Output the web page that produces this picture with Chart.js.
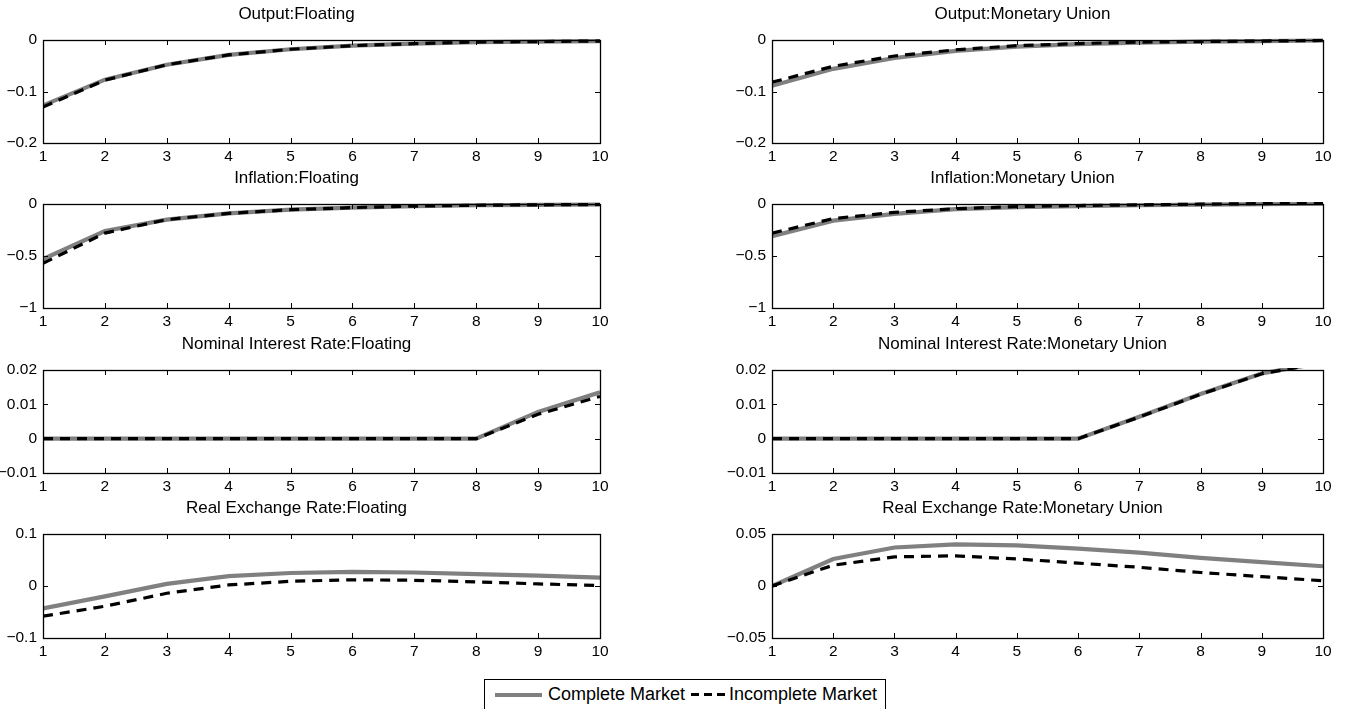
<!DOCTYPE html>
<html><head><meta charset="utf-8">
<script src="https://cdn.jsdelivr.net/npm/chart.js@4.4.1/dist/chart.umd.min.js"></script>
<style>
html,body{margin:0;padding:0;background:#fff;width:1346px;height:709px;overflow:hidden;position:relative;font-family:"Liberation Sans",Arial,sans-serif;}
.p{position:absolute;}
#legend{position:absolute;left:484px;top:679px;width:402px;height:40px;border:1px solid #000;border-bottom:none;background:#fff;box-sizing:border-box;font-size:18px;color:#000;display:flex;align-items:flex-start;padding:4px 0 0 10px;white-space:nowrap;}
#legend .txt{line-height:21px;height:21px;}
#legend .sw1{width:47px;height:4px;background:#808080;margin:9px 6px 0 0;}
#legend .sw2{width:34px;height:3px;background:repeating-linear-gradient(to right,#000 0 8px,transparent 8px 13px);margin:9px 4px 0 6px;}
</style></head>
<body>
<div id="legend"></div>
<script>
// ---------- data ----------
const periods = [1, 2, 3, 4, 5, 6, 7, 8, 9, 10];
const seriesNames = ['Complete Market', 'Incomplete Market'];
const panelTitles = [
  'Output:Floating', 'Output:Monetary Union',
  'Inflation:Floating', 'Inflation:Monetary Union',
  'Nominal Interest Rate:Floating', 'Nominal Interest Rate:Monetary Union',
  'Real Exchange Rate:Floating', 'Real Exchange Rate:Monetary Union'
];

const outputFloatComplete   = [-0.127, -0.077, -0.048, -0.029, -0.018, -0.011, -0.007, -0.004, -0.003, -0.002];
const outputFloatIncomplete = [-0.130, -0.078, -0.048, -0.029, -0.018, -0.011, -0.007, -0.004, -0.003, -0.002];
const outputMUComplete      = [-0.089, -0.056, -0.035, -0.021, -0.013, -0.008, -0.005, -0.003, -0.002, -0.001];
const outputMUIncomplete    = [-0.082, -0.051, -0.031, -0.019, -0.011, -0.007, -0.004, -0.003, -0.002, -0.001];

const inflFloatComplete     = [-0.53, -0.26, -0.15, -0.09, -0.055, -0.035, -0.02, -0.012, -0.008, -0.005];
const inflFloatIncomplete   = [-0.57, -0.28, -0.15, -0.09, -0.055, -0.035, -0.02, -0.012, -0.008, -0.005];
const inflMUComplete        = [-0.31, -0.16, -0.095, -0.05, -0.03, -0.02, -0.012, -0.006, -0.002, 0.004];
const inflMUIncomplete      = [-0.28, -0.14, -0.08, -0.045, -0.025, -0.015, -0.008, -0.002, 0.004, 0.008];

const rateFloatComplete     = [0, 0, 0, 0, 0, 0, 0, 0, 0.0078, 0.0135];
const rateFloatIncomplete   = [0, 0, 0, 0, 0, 0, 0, 0, 0.0071, 0.0123];
const rateMUComplete        = [0, 0, 0, 0, 0, 0, 0.0064, 0.0130, 0.0190, 0.0222];
const rateMUIncomplete      = [0, 0, 0, 0, 0, 0, 0.0063, 0.0129, 0.0189, 0.0221];

const rerFloatComplete      = [-0.043, -0.020, 0.004, 0.019, 0.025, 0.027, 0.026, 0.023, 0.020, 0.016];
const rerFloatIncomplete    = [-0.058, -0.039, -0.014, 0.002, 0.009, 0.012, 0.011, 0.008, 0.004, 0.001];
const rerMUComplete         = [0.000, 0.026, 0.037, 0.040, 0.039, 0.036, 0.032, 0.027, 0.023, 0.019];
const rerMUIncomplete       = [0.000, 0.020, 0.028, 0.029, 0.026, 0.022, 0.018, 0.013, 0.009, 0.005];

const yTicksOutput    = [-0.2, -0.1, 0];
const yTicksInflation = [-1, -0.5, 0];
const yTicksRate      = [-0.01, 0, 0.01, 0.02];
const yTicksRerFloat  = [-0.1, 0, 0.1];
const yTicksRerMU     = [-0.05, 0, 0.05];
const xTickLabels     = periods;

// ---------- layout / style ----------
const FONT = '"Liberation Sans", Arial, sans-serif';
const TICK_SIZE = 15.5, TITLE_SIZE = 17;
const colLeft = [[43, 600], [772, 1323]];
const rowTop = [[40, 143], [204, 308], [370, 473], [534, 638]];
const Y_W = 50, TITLE_H = 36, X_H = 26, PAD_R = 22;

const panels = [
  {c: outputFloatComplete, i: outputFloatIncomplete, t: yTicksOutput},
  {c: outputMUComplete, i: outputMUIncomplete, t: yTicksOutput},
  {c: inflFloatComplete, i: inflFloatIncomplete, t: yTicksInflation},
  {c: inflMUComplete, i: inflMUIncomplete, t: yTicksInflation},
  {c: rateFloatComplete, i: rateFloatIncomplete, t: yTicksRate},
  {c: rateMUComplete, i: rateMUIncomplete, t: yTicksRate},
  {c: rerFloatComplete, i: rerFloatIncomplete, t: yTicksRerFloat},
  {c: rerMUComplete, i: rerMUIncomplete, t: yTicksRerMU}
];

const fmt = v => String(v).replace('-', '\u2212');

const framePlugin = {
  id: 'frame',
  afterDatasetsDraw(chart) {
    const {ctx, chartArea: a, scales} = chart;
    ctx.save();
    ctx.strokeStyle = '#000';
    ctx.lineWidth = 1;
    ctx.beginPath();
    const TL = 5;
    scales.x.ticks.forEach((tk, k) => {
      const x = Math.round(scales.x.getPixelForTick(k)) + 0.5;
      ctx.moveTo(x, a.bottom); ctx.lineTo(x, a.bottom - TL);
      ctx.moveTo(x, a.top); ctx.lineTo(x, a.top + TL);
    });
    scales.y.ticks.forEach((tk, k) => {
      const y = Math.round(scales.y.getPixelForTick(k)) + 0.5;
      ctx.moveTo(a.left, y); ctx.lineTo(a.left + TL, y);
      ctx.moveTo(a.right, y); ctx.lineTo(a.right - TL, y);
    });
    ctx.stroke();
    ctx.lineWidth = 1.3;
    ctx.strokeRect(Math.round(a.left) + 0.5, Math.round(a.top) + 0.5, Math.round(a.right - a.left), Math.round(a.bottom - a.top));
    ctx.restore();
  }
};

panels.forEach((p, idx) => {
  const col = idx % 2, row = Math.floor(idx / 2);
  const [L, R] = colLeft[col];
  const [T, B] = rowTop[row];
  const cv = document.createElement('canvas');
  const w = (R - L) + Y_W + PAD_R, h = (B - T) + TITLE_H + X_H;
  cv.width = w; cv.height = h;
  cv.className = 'p';
  cv.style.left = (L - Y_W) + 'px';
  cv.style.top = (T - TITLE_H) + 'px';
  cv.style.width = w + 'px';
  cv.style.height = h + 'px';
  document.body.appendChild(cv);
  const yt = p.t;
  const lh = TITLE_SIZE * 1.2;
  new Chart(cv, {
    type: 'line',
    data: {
      labels: periods,
      datasets: [
        {label: seriesNames[0], data: periods.map((x, k) => ({x, y: p.c[k]})), borderColor: '#808080', borderWidth: 4.2, pointRadius: 0, tension: 0, clip: {left: 0, right: 0, top: 2, bottom: 2}, order: 2},
        {label: seriesNames[1], data: periods.map((x, k) => ({x, y: p.i[k]})), borderColor: '#000000', borderWidth: 3.2, borderDash: [10, 7], pointRadius: 0, tension: 0, clip: {left: 0, right: 0, top: 2, bottom: 2}, order: 1}
      ]
    },
    options: {
      responsive: false, animation: false, devicePixelRatio: 1,
      layout: {padding: {left: 0, right: PAD_R, top: 0, bottom: 0}},
      plugins: {
        legend: {display: false}, tooltip: {enabled: false},
        title: {display: true, text: panelTitles[idx], color: '#000', font: {family: FONT, size: TITLE_SIZE, weight: 'normal', lineHeight: 1.2}, padding: {top: TITLE_H - lh - (26 - lh / 2), bottom: 26 - lh / 2}}
      },
      scales: {
        x: {
          type: 'linear', min: 1, max: 10,
          grid: {display: false, drawTicks: false}, border: {display: false},
          afterBuildTicks: s => { s.ticks = xTickLabels.map(v => ({value: v})); },
          afterFit: s => { s.height = X_H; },
          ticks: {color: '#000', font: {family: FONT, size: TICK_SIZE}, padding: 4, maxRotation: 0, autoSkip: false, callback: v => fmt(v)}
        },
        y: {
          min: yt[0], max: yt[yt.length - 1],
          grid: {display: false, drawTicks: false}, border: {display: false},
          afterBuildTicks: s => { s.ticks = yt.map(v => ({value: v})); },
          afterFit: s => { s.width = Y_W; },
          ticks: {color: '#000', font: {family: FONT, size: TICK_SIZE}, padding: 6, autoSkip: false, callback: v => fmt(v)}
        }
      }
    },
    plugins: [framePlugin]
  });
});

// legend (HTML, real text)
const lg = document.getElementById('legend');
lg.innerHTML =
  '<div class="sw1"></div><div class="txt">' + seriesNames[0] + '</div>' +
  '<div class="sw2"></div><div class="txt">' + seriesNames[1] + '</div>';
</script>
</body></html>
